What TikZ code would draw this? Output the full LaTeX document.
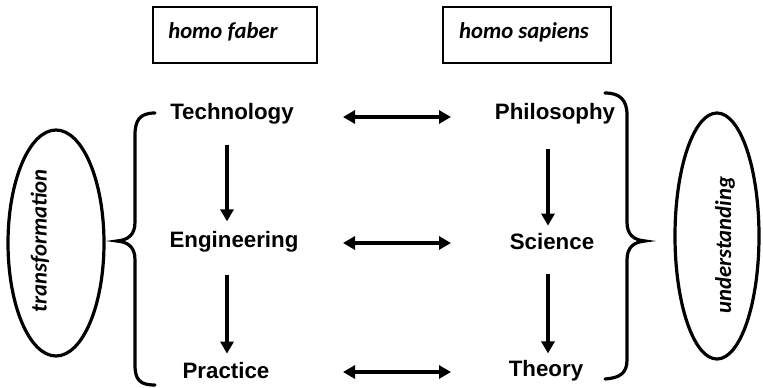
\documentclass[tikz,border=0pt]{standalone}
\usepackage{fontspec}
\setmainfont{Liberation Sans}
\newfontfamily\itfont{Carlito}
\usetikzlibrary{arrows.meta,calc}
\begin{document}
\begin{tikzpicture}[x=1pt,y=-1pt,
  lbl/.style={font=\fontsize{22.3}{25}\selectfont\bfseries, inner sep=2pt},
  ital/.style={font=\itfont\fontsize{22.7}{26}\selectfont\bfseries\itshape, inner sep=0pt},
  hbox/.style={draw, line width=2.4pt},
  conn/.style={line width=3.6pt, -{Triangle[length=12pt,width=13pt]}},
  dbl/.style={line width=3.6pt, {Triangle[length=12pt,width=13pt]}-{Triangle[length=12pt,width=13pt]}},
  brace/.style={line width=3.2pt, line cap=round},
  ellline/.style={line width=3.2pt}
]
\useasboundingbox (0,0) rectangle (763,388);
% top boxes
\node[hbox, minimum width=164pt, minimum height=56pt] (bf) at (235,35) {};
\node[hbox, minimum width=168pt, minimum height=56pt] (bs) at (527,35) {};
\node[ital] (tf) at (223,32) {homo faber};
\node[ital] (ts) at (524,32) {homo sapiens};
% labels
\node[lbl] (tech) at (232,114) {Technology};
\node[lbl] (phil) at (555,114) {Philosophy};
\node[lbl] (eng) at (234,242) {Engineering};
\node[lbl] (sci) at (552,242) {Science};
\node[lbl] (prac) at (226,371) {Practice};
\node[lbl] (theo) at (546,371) {Theory};
% arrow columns
\coordinate (cL) at (227,0);
\coordinate (cR) at (548,0);
\coordinate (hL) at (343,0);
\coordinate (hR) at (451,0);
\draw[conn] ($(tech.south -| cL)+(0,18)$) -- ($(eng.north -| cL)+(0,-8)$);
\draw[conn] ($(eng.south -| cL)+(0,20)$) -- ($(prac.north -| cL)+(0,-7)$);
\draw[conn] ($(phil.south -| cR)+(0,22)$) -- ($(sci.north -| cR)+(0,-6)$);
\draw[conn] ($(sci.south -| cR)+(0,22)$) -- ($(theo.north -| cR)+(0,-5)$);
\draw[dbl] ($(tech.east -| hL)+(0,3)$) -- ($(phil.west -| hR)+(0,3)$);
\draw[dbl] ($(eng.east -| hL)+(0,1)$) -- ($(sci.west -| hR)+(0,1)$);
\draw[dbl] ($(prac.east -| hL)+(0,1)$) -- ($(theo.west -| hR)+(0,1)$);
% braces
\draw[brace] (155,113) .. controls (140,113) and (135,120) .. (135,135) -- (135,222)
  .. controls (135,235) and (128,240) .. (117,241)
  .. controls (128,242) and (135,247) .. (135,260) -- (135,365)
  .. controls (135,380) and (140,385) .. (155,385);
\draw[brace] (605,93) .. controls (620,93) and (627,100) .. (627,115) -- (627,222)
  .. controls (627,235) and (634,240) .. (645,241)
  .. controls (634,242) and (627,247) .. (627,260) -- (627,360)
  .. controls (627,373) and (620,378) .. (605,379);
% ellipses
\draw[ellline] (56,243) ellipse [x radius=48, y radius=113];
\draw[ellline] (717,236) ellipse [x radius=42, y radius=123];
\node[ital, rotate=90] (tr) at (40,241) {transformation};
\node[ital, rotate=90] (un) at (725,245) {understanding};
\end{tikzpicture}
\end{document}
